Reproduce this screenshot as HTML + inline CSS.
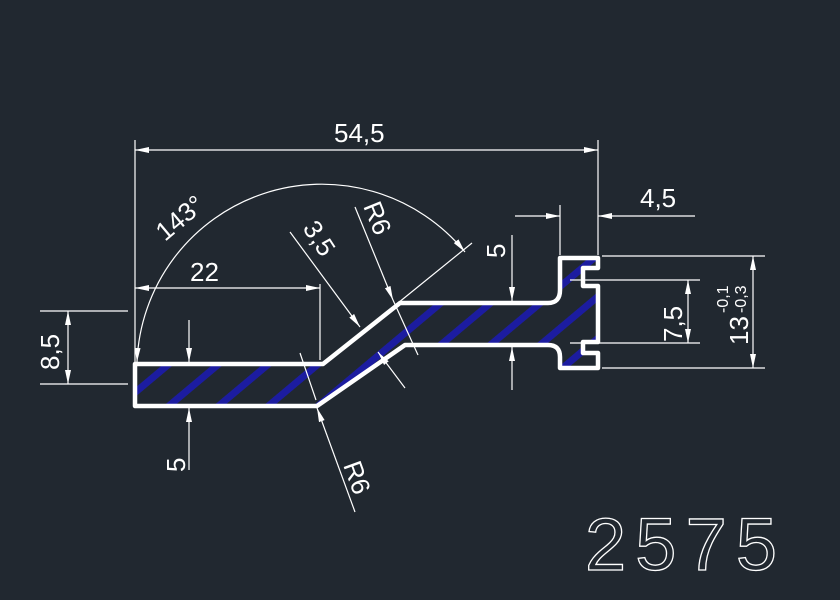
<!DOCTYPE html>
<html><head><meta charset="utf-8"><style>
html,body{margin:0;padding:0;background:#212830;}
svg{display:block}
text{font-family:"Liberation Sans",sans-serif;fill:#fff;}
</style></head><body>
<svg width="840" height="600" viewBox="0 0 840 600" xmlns="http://www.w3.org/2000/svg">
<defs>
<marker id="a" viewBox="0 0 14 6" refX="14" refY="3" markerWidth="14" markerHeight="6" orient="auto-start-reverse" markerUnits="userSpaceOnUse"><path d="M0,0 L14,3 L0,6 Z" fill="#fff"/></marker>
<pattern id="h" width="32" height="32" patternUnits="userSpaceOnUse" patternTransform="rotate(-40)"><rect x="0" y="0" width="32" height="7" fill="#1c1ca0"/></pattern>
</defs>
<rect width="840" height="600" fill="#212830"/>
<path d="M135,364 L323,364 L400,303 L548,303 Q560,303 560,290 L560,258 L598,258 L598,268 L583,268 L583,286 L598,286 L598,342 L583,342 L583,353 L598,353 L598,368 L560,368 L560,357 Q560,345 548,345 L405,345 L317,406 L135,406 Z" fill="url(#h)" stroke="#fff" stroke-width="4.5" stroke-linejoin="round"/>
<g stroke="#fff" stroke-width="1.2" fill="none">
<line x1="135" y1="140" x2="135" y2="362"/>
<line x1="598" y1="140" x2="598" y2="255"/>
<line x1="135" y1="150" x2="598" y2="150" marker-start="url(#a)" marker-end="url(#a)"/>
<path d="M137,362 A185,185 0 0 1 465,252" marker-start="url(#a)" marker-end="url(#a)"/>
<line x1="398" y1="303" x2="472" y2="243"/>
<line x1="135" y1="288" x2="320" y2="288" marker-start="url(#a)" marker-end="url(#a)"/>
<line x1="320" y1="284" x2="320" y2="360"/>
<line x1="40" y1="311" x2="128" y2="311"/>
<line x1="40" y1="384" x2="128" y2="384"/>
<line x1="68" y1="311" x2="68" y2="384" marker-start="url(#a)" marker-end="url(#a)"/>
<line x1="189" y1="320" x2="189" y2="362" marker-end="url(#a)"/>
<line x1="189" y1="470" x2="189" y2="408" marker-end="url(#a)"/>
<line x1="355" y1="512" x2="317" y2="408" marker-end="url(#a)"/>
<line x1="300" y1="353" x2="316" y2="400"/>
<line x1="290" y1="232" x2="360" y2="327" marker-end="url(#a)"/>
<line x1="405" y1="388" x2="378" y2="352" marker-end="url(#a)"/>
<line x1="355" y1="207" x2="393" y2="300" marker-end="url(#a)"/>
<line x1="393" y1="300" x2="418" y2="355"/>
<line x1="512" y1="235" x2="512" y2="301" marker-end="url(#a)"/>
<line x1="512" y1="390" x2="512" y2="347" marker-end="url(#a)"/>
<line x1="560" y1="205" x2="560" y2="255"/>
<line x1="515" y1="216" x2="560" y2="216" marker-end="url(#a)"/>
<line x1="695" y1="216" x2="598" y2="216" marker-end="url(#a)"/>
<line x1="570" y1="280" x2="700" y2="280"/>
<line x1="570" y1="343" x2="700" y2="343"/>
<line x1="688" y1="280" x2="688" y2="343" marker-start="url(#a)" marker-end="url(#a)"/>
<line x1="602" y1="256" x2="765" y2="256"/>
<line x1="602" y1="368" x2="765" y2="368"/>
<line x1="753" y1="256" x2="753" y2="368" marker-start="url(#a)" marker-end="url(#a)"/>
</g>
<g font-size="26">
<text x="334" y="142">54,5</text>
<text x="190" y="281">22</text>
<text x="640" y="207">4,5</text>
<text transform="translate(165,242) rotate(-40)">143°</text>
<text transform="translate(302,228) rotate(57)">3,5</text>
<text transform="translate(363,206) rotate(68)">R6</text>
<text transform="translate(343,465) rotate(70)">R6</text>
<text transform="translate(59,370) rotate(-90)">8,5</text>
<text transform="translate(185,472) rotate(-90)">5</text>
<text transform="translate(505,258) rotate(-90)">5</text>
<text transform="translate(682,342) rotate(-90)">7,5</text>
<text transform="translate(748,345) rotate(-90)">13</text>
<text font-size="16" transform="translate(728,313) rotate(-90)">-0,1</text>
<text font-size="16" transform="translate(746,313) rotate(-90)">-0,3</text>
</g>
<text x="585" y="570" font-size="74" textLength="192" lengthAdjust="spacing" style="fill:none;stroke:#fff;stroke-width:1.3">2575</text>
</svg>
</body></html>
